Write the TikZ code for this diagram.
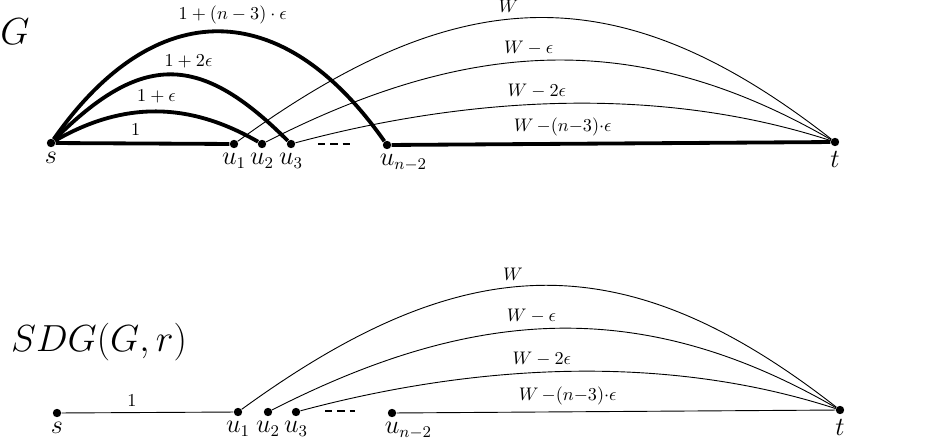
\documentclass[tikz,border=0pt]{standalone}
\usepackage{amsmath}
\usepackage{tikz}

\begin{document}
\begin{tikzpicture}[x=0.55pt,y=0.55pt,
	vertex/.style={circle,fill=black,inner sep=0pt,minimum size=4.6pt},
	heavy/.style={line width=2.1pt},
	light/.style={line width=0.5pt},
	gap/.style={line width=1.1pt,dash pattern=on 4pt off 2.8pt},
	every label/.style={font=\fontsize{13.5pt}{16pt}\selectfont,inner sep=2.3pt}]
\useasboundingbox (0,0) rectangle (927,440);
% graph G
\node (g) at (15,408) {\huge $G$};
\node [vertex,label=below:$s$] (s) at (51,297) {};
\node [vertex,label=below:$u_1$] (u1) at (234,296) {};
\node [vertex,label=below:$u_2$] (u2) at (262,296) {};
\node [vertex,label=below:$u_3$] (u3) at (291,296) {};
\node [vertex,label={[xshift=9pt]below:$u_{n-2}$}] (un) at (387,295) {};
\node [vertex,label=below:$t$] (t) at (835,298) {};
\coordinate (d1) at (318,296);
\coordinate (d2) at (350,296);
\draw [heavy] (s) -- node[pos=0.46,above] {$1$} (u1);
\draw [heavy] (s) to[out=30,in=150] node[midway,above] {$1+\epsilon$} (u2);
\draw [heavy] (s) to[out=45,in=135,looseness=1.36] node[pos=0.58,above] {$1+2\epsilon$} (u3);
\draw [heavy] (s) to[out=55,in=125,looseness=1.37] node[pos=0.54,above] {$1+(n-3)\cdot\epsilon$} (un);
\draw [light] (u1) to[out=36,in=142,looseness=1.17] node[pos=0.45,above] {$W$} (t);
\draw [light] (u2) to[out=27,in=150,looseness=1.02] node[pos=0.46,above] {$W-\epsilon$} (t);
\draw [light] (u3) to[out=15,in=162,looseness=0.86] node[pos=0.45,above] {$W-2\epsilon$} (t);
\draw [heavy] (un) -- node[pos=0.39,above] {$W\,{-}(n{-}3){\cdot}\epsilon$} (t);
\draw [gap] (d1) -- (d2);
% graph SDG(G,r)
\node (sdg) at (99,98) {\huge $SDG(G,r)$};
\node [vertex,label=below:$s$] (rs) at (57,27) {};
\node [vertex,label=below:$u_1$] (ru1) at (238,28) {};
\node [vertex,label=below:$u_2$] (ru2) at (268,28) {};
\node [vertex,label=below:$u_3$] (ru3) at (296,28) {};
\node [vertex,label={[xshift=9pt]below:$u_{n-2}$}] (run) at (392,27) {};
\node [vertex,label=below:$t$] (rt) at (840,30) {};
\coordinate (e1) at (325,29);
\coordinate (e2) at (355,29);
\draw [light] (rs) -- node[pos=0.41,above] {$1$} (ru1);
\draw [light] (ru1) to[out=36,in=142,looseness=1.17] node[pos=0.45,above] {$W$} (rt);
\draw [light] (ru2) to[out=27,in=150,looseness=1.02] node[pos=0.455,above] {$W-\epsilon$} (rt);
\draw [light] (ru3) to[out=15,in=162,looseness=0.86] node[pos=0.45,above] {$W-2\epsilon$} (rt);
\draw [light] (run) -- node[pos=0.39,above] {$W\,{-}(n{-}3){\cdot}\epsilon$} (rt);
\draw [gap] (e1) -- (e2);
\end{tikzpicture}
\end{document}
